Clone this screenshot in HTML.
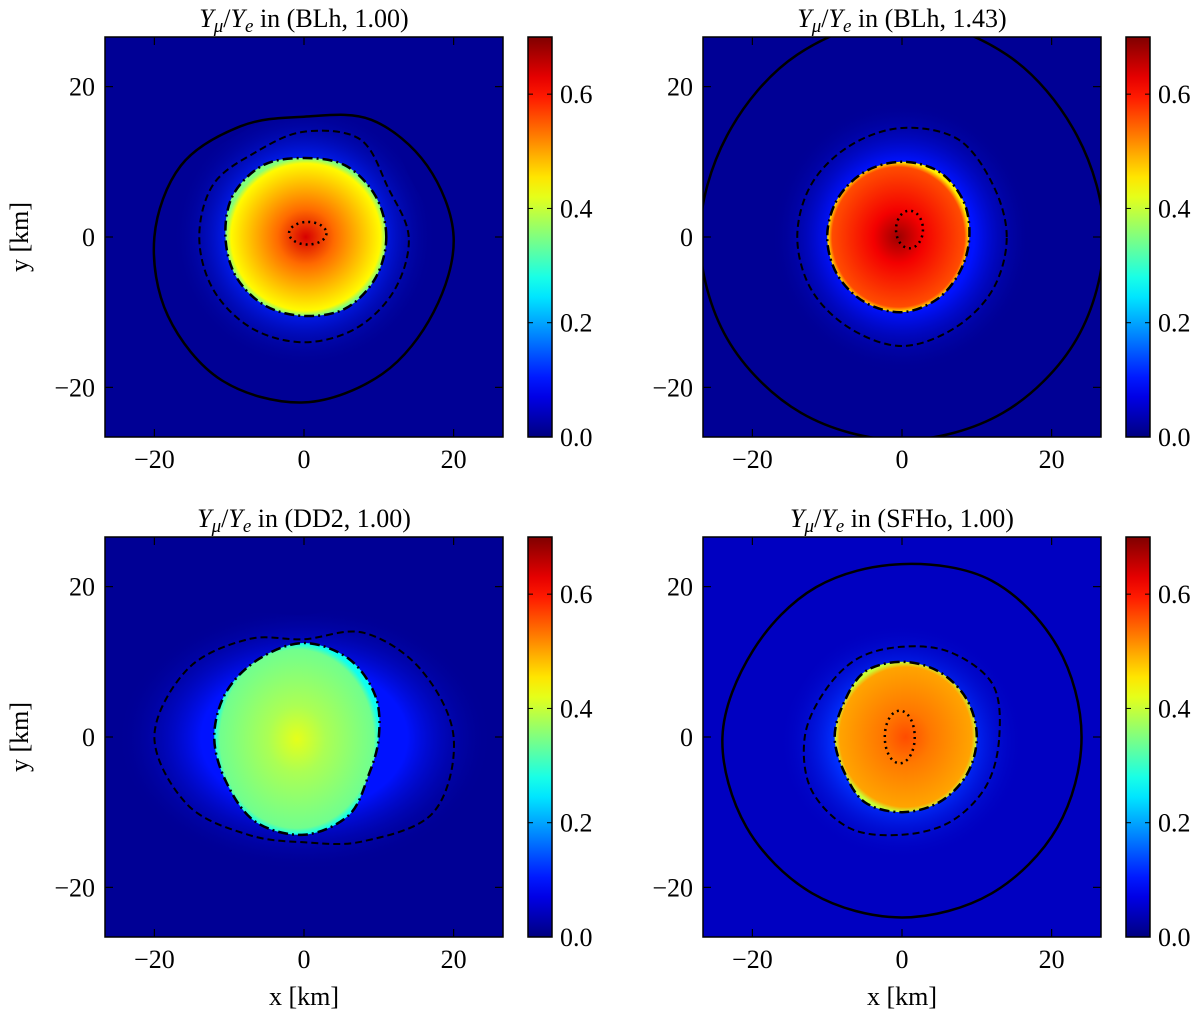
<!DOCTYPE html>
<html><head><meta charset="utf-8"><style>
body{margin:0;background:#fff}
svg text{font-family:"Liberation Serif",serif;fill:#000}
</style></head><body>
<svg id="fig" width="1200" height="1020" viewBox="0 0 1200 1020" xmlns="http://www.w3.org/2000/svg"></svg>
<script>
const panelTitles=["(BLh, 1.00)","(BLh, 1.43)","(DD2, 1.00)","(SFHo, 1.00)"];
const axisTicks=[-20,0,20];
const cbarTicks=[0.0,0.2,0.4,0.6];
const vmax=0.7;
const bgValue=[0.015,0.015,0.015,0.045];
const coreCenterValue=[0.64,0.68,0.42,0.56];
const coreEdgeValue=[0.44,0.56,0.34,0.50];
const haloValue=[0.11,0.10,0.10,0.12];
const solidR=[[20,19,18,16,17,19,20,21,22,22,21,20],[27,27,28,29,28,27,27,27,27,27,27,27],[40,40,40,40,40,40,40,40,40,40,40,40],[24,24,24,23,23,23,24,24,24,24,24,24]];
const dashedR=[[14,13,15,14,13,14,14,14,14,14,14,14],[14,14,15,14.5,14,14,14,14,14,14.5,14,14],[20,18,16,13,15,18,20,18,15,14,16,20],[13,14,13,12,12,12,13,14,14,13,13,13]];
const coreR=[[11,11,11,10.5,11,11,10.5,10.5,10.5,10.5,11,11],[9,9.5,10,10,10,10,10,10,10,10,9.5,9],[10,11,12,12.5,12,12,12,12,13,13,12,10],[10,10,10,10,10,9,9,9,10,10,10,10]];
const dotted=[[0.5,0.5,2.5,1.5],[1,1,1.8,2.5],null,[-0.3,0,2,3.5]];
const NS="http://www.w3.org/2000/svg";
const svg=document.getElementById('fig');
function jet(v){const x=Math.max(0,Math.min(1,v/vmax));const c=t=>Math.round(255*Math.max(0,Math.min(1,1.5-Math.abs(4*x-t))));return `rgb(${c(3)},${c(2)},${c(1)})`;}
function el(tag,attrs,parent){const e=document.createElementNS(NS,tag);for(const k in attrs)e.setAttribute(k,attrs[k]);(parent||svg).appendChild(e);return e;}
const origins=[[105,37],[703,37],[105,537],[703,537]];
const W=398,H=400,R=26.6;
const defs=el('defs',{});
function closedPath(pts){let d='';const n=pts.length;for(let i=0;i<n;i++){const p0=pts[(i-1+n)%n],p1=pts[i],p2=pts[(i+1)%n],p3=pts[(i+2)%n];if(i===0)d+=`M${p1[0]},${p1[1]}`;d+=` C${p1[0]+(p2[0]-p0[0])/6},${p1[1]+(p2[1]-p0[1])/6} ${p2[0]-(p3[0]-p1[0])/6},${p2[1]-(p3[1]-p1[1])/6} ${p2[0]},${p2[1]}`;}return d+'Z';}
const cg=el('linearGradient',{id:'cbg',x1:0,y1:1,x2:0,y2:0},defs);
for(let i=0;i<=20;i++){el('stop',{offset:i/20,'stop-color':jet(vmax*i/20)},cg);}
origins.forEach(([x0,y0],p)=>{
  const sx=x=>x0+(x+R)/(2*R)*W, sy=y=>y0+(R-y)/(2*R)*H;
  const g=el('g',{});
  
  
  const cp=el('clipPath',{id:'cp'+p},defs);
  el('rect',{x:x0,y:y0,width:W,height:H},cp);
  const inner=el('g',{'clip-path':`url(#cp${p})`},g);
  el('rect',{x:x0,y:y0,width:W,height:H,fill:jet(bgValue[p])},inner);
  const toPts=(arr,s)=>arr.map((r,i)=>{const a=i/arr.length*2*Math.PI;return [sx(r*s*Math.cos(a)),sy(r*s*Math.sin(a))];});
  const hg=el('radialGradient',{id:'hg'+p},defs);
  el('stop',{offset:0.55,'stop-color':jet(haloValue[p])},hg);el('stop',{offset:1,'stop-color':jet(bgValue[p]),'stop-opacity':0},hg);
  const halo=el('path',{d:closedPath(toPts(dashedR[p],1.25)),fill:`url(#hg${p})`},inner);
  
  const kg=el('radialGradient',{id:'kg'+p},defs);
  el('stop',{offset:0,'stop-color':jet(coreCenterValue[p])},kg);el('stop',{offset:0.35,'stop-color':jet((coreCenterValue[p]+coreEdgeValue[p])/2)},kg);
  el('stop',{offset:0.93,'stop-color':jet(coreEdgeValue[p])},kg);el('stop',{offset:1,'stop-color':jet(coreEdgeValue[p]*0.8)},kg);
  const core=el('path',{d:closedPath(toPts(coreR[p],1)),fill:`url(#kg${p})`,stroke:'#000','stroke-width':2.5,'stroke-dasharray':'10,4,2,4'},inner);
  
  const ds=el('path',{d:closedPath(toPts(dashedR[p],1)),fill:'none',stroke:'#000','stroke-width':2,'stroke-dasharray':'7,4'},inner);
  
  const so=el('path',{d:closedPath(toPts(solidR[p],1)),fill:'none',stroke:'#000','stroke-width':2.5},inner);
  
  if(dotted[p]){const [cx,cy,rx,ry]=dotted[p];const e=el('ellipse',{cx:sx(cx),cy:sy(cy),rx:rx/(2*R)*W,ry:ry/(2*R)*H,fill:'none',stroke:'#000','stroke-width':2.5,'stroke-dasharray':'2,4'},inner);
    }
  el('rect',{x:x0,y:y0,width:W,height:H,fill:'none',stroke:'#000','stroke-width':1.5},g);
  axisTicks.forEach(t=>{
    el('line',{x1:sx(t),x2:sx(t),y1:y0+H,y2:y0+H-8,stroke:'#000','stroke-width':1.2},g);
    el('line',{x1:sx(t),x2:sx(t),y1:y0,y2:y0+8,stroke:'#000','stroke-width':1.2},g);
    el('line',{x1:x0,x2:x0+8,y1:sy(t),y2:sy(t),stroke:'#000','stroke-width':1.2},g);
    el('line',{x1:x0+W,x2:x0+W-8,y1:sy(t),y2:sy(t),stroke:'#000','stroke-width':1.2},g);
    const lab=(t<0?'\u2212':'')+Math.abs(t);
    const tx=el('text',{x:sx(t),y:y0+H+31,'font-size':26,'text-anchor':'middle'},g);tx.textContent=lab;
    
    const ty=el('text',{x:x0-10,y:sy(t)+9,'font-size':26,'text-anchor':'end'},g);ty.textContent=lab;
    
  });
  const tt=el('text',{x:x0+W/2,y:y0-10,'font-size':26,'text-anchor':'middle'},g);
  tt.innerHTML=`<tspan font-style="italic">Y</tspan><tspan font-size="19" dy="5" font-style="italic">μ</tspan><tspan dy="-5">/</tspan><tspan font-style="italic">Y</tspan><tspan font-size="19" dy="5" font-style="italic">e</tspan><tspan dy="-5"> in ${panelTitles[p]}</tspan>`;
  
  if(p%2===0){const yl=el('text',{x:0,y:0,'font-size':26,'text-anchor':'middle',transform:`translate(${x0-77},${y0+H/2}) rotate(-90)`},g);yl.textContent='y [km]';
    }
  if(p>=2){const xl=el('text',{x:x0+W/2,y:y0+H+68,'font-size':26,'text-anchor':'middle'},g);xl.textContent='x [km]';
    }
  const cx0=x0+423,cw=24;
  const cb=el('rect',{x:cx0,y:y0,width:cw,height:H,fill:'url(#cbg)',stroke:'#000','stroke-width':1.5},g);
  
  cbarTicks.forEach(v=>{const yy=y0+H-v/vmax*H;
    el('line',{x1:cx0,x2:cx0+5,y1:yy,y2:yy,stroke:'#000'},g);el('line',{x1:cx0+cw,x2:cx0+cw-5,y1:yy,y2:yy,stroke:'#000'},g);
    const ct=el('text',{x:cx0+cw+8,y:yy+9,'font-size':26},g);ct.textContent=v.toFixed(1);
    });
});
</script>
</body></html>
